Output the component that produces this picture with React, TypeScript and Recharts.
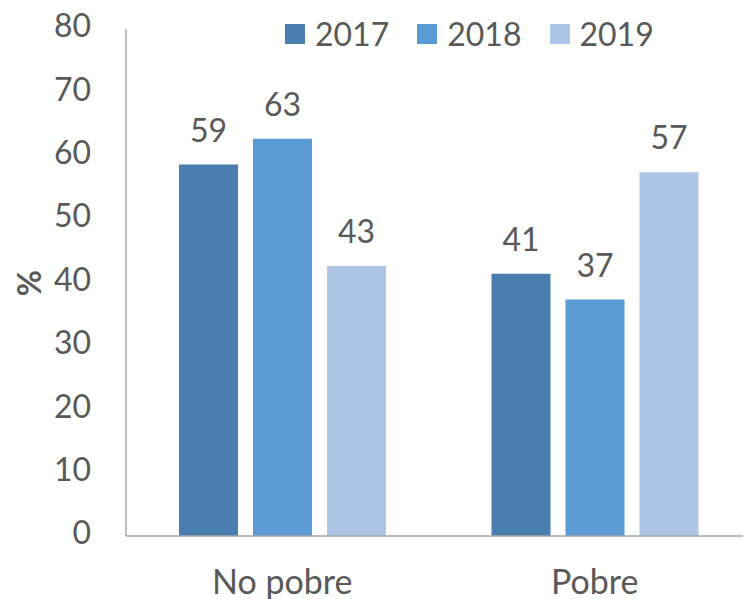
import React from 'react';
import { BarChart, Bar, XAxis, YAxis, Legend, LabelList } from 'recharts';

const categories = ['No pobre', 'Pobre'];
const years = ['2017', '2018', '2019'];
const values2017 = [58.6, 41.4];
const values2018 = [62.7, 37.3];
const values2019 = [42.6, 57.4];
const yTicks = [0, 10, 20, 30, 40, 50, 60, 70, 80];

const COLORS = ['#4a7eb0', '#5b9bd5', '#adc6e5'];
const TEXT = '#595959';
const FONT = 'Lato, "Open Sans", sans-serif';

const data = categories.map((name, i) => ({
  name,
  [years[0]]: values2017[i],
  [years[1]]: values2018[i],
  [years[2]]: values2019[i],
}));

function LegendContent({ payload }: any) {
  return (
    <div style={{ display: 'flex', alignItems: 'center', fontFamily: FONT, fontSize: 32, color: TEXT }}>
      {(payload || []).map((p: any, i: number) => (
        <div key={i} style={{ display: 'flex', alignItems: 'center', marginRight: 28 }}>
          <span style={{ width: 20, height: 20, background: p.color, display: 'inline-block', marginRight: 10 }} />
          <span style={{ lineHeight: '36px' }}>{p.value}</span>
        </div>
      ))}
    </div>
  );
}

export default function App() {
  return (
    <BarChart
      width={743}
      height={591}
      data={data}
      margin={{ top: 21, right: 0, bottom: 0, left: 0 }}
      barSize={59}
      barGap={15}
      style={{ fontFamily: FONT }}
    >
      <XAxis
        dataKey="name"
        height={63}
        tickLine={false}
        tickSize={0}
        tickMargin={34}
        axisLine={{ stroke: '#a6a6a6', strokeWidth: 1.5 }}
        tick={{ fill: TEXT, fontSize: 34 }}
      />
      <YAxis
        width={118}
        domain={[0, 80]}
        ticks={yTicks}
        tickLine={false}
        tickSize={0}
        tickMargin={35}
        axisLine={{ stroke: '#a6a6a6', strokeWidth: 1.5 }}
        tick={{ fill: TEXT, fontSize: 32, dy: -3 }}
        label={{
          content: () => (
            <text x={20} y={275} transform="rotate(-90 20 275)" textAnchor="middle" dominantBaseline="central" fill={TEXT} fontSize={32} fontWeight="bold">
              %
            </text>
          ),
        }}
      />
      <Legend
        verticalAlign="middle"
        align="center"
        layout="horizontal"
        content={<LegendContent />}
        wrapperStyle={{ top: 8, left: 277, width: 460, height: 36 }}
      />
      {years.map((y, i) => (
        <Bar key={y} dataKey={y} fill={COLORS[i]} isAnimationActive={false}>
          <LabelList
            dataKey={y}
            position="top"
            offset={23}
            fill={TEXT}
            fontSize={32}
            formatter={(v: any) => Math.round(Number(v))}
          />
        </Bar>
      ))}
    </BarChart>
  );
}
